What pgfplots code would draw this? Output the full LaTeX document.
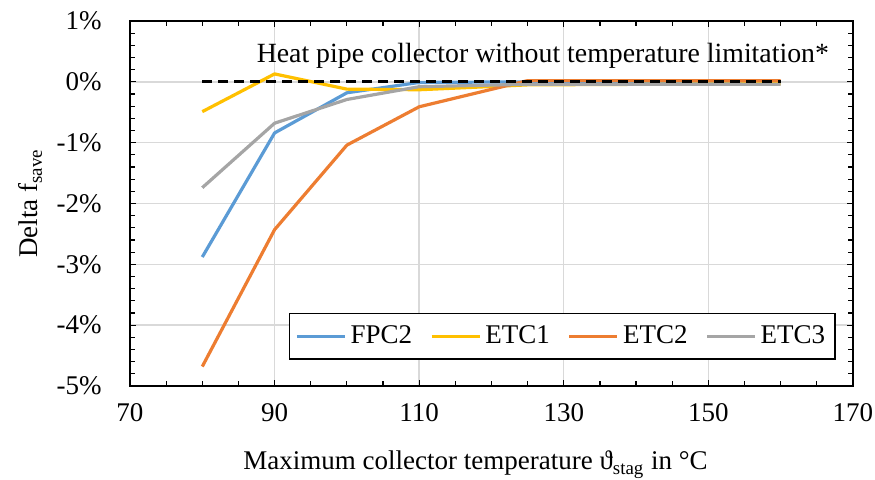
\documentclass[border=0pt]{standalone}
\usepackage{fontspec}
\setmainfont{Liberation Serif}
\usepackage{pgfplots}
\pgfplotsset{compat=1.18}
\definecolor{cfpc}{HTML}{5B9BD5}
\definecolor{cetca}{HTML}{FFC000}
\definecolor{cetcb}{HTML}{ED7D31}
\definecolor{cetcc}{HTML}{A5A5A5}
\definecolor{gridc}{HTML}{D9D9D9}
\begin{document}
\fontsize{13.5}{16}\selectfont
\begin{tikzpicture}
\begin{axis}[
  at={(0,0)}, anchor=south west,
  scale only axis, width=361.5pt, height=182.5pt,
  xmin=70, xmax=170, ymin=-5, ymax=1,
  xtick={70,90,...,170}, minor x tick num=3,
  ytick={-5,...,1}, minor y tick num=4,
  yticklabels={-5\%,-4\%,-3\%,-2\%,-1\%,0\%,1\%},
  tick align=inside, major tick length=3pt, minor tick length=2.5pt,
  tick style={black, line width=0.6pt},
  axis line style={black, line width=0.8pt},
  grid=major, major grid style={gridc, line width=0.7pt},
  /pgf/number format/assume math mode=true,
  xticklabel style={yshift=-4pt},
  yticklabel style={xshift=-9.5pt},
  xlabel={Maximum collector temperature ϑ\textsubscript{stag} in °C},
  ylabel={Delta f\textsubscript{save}},
  xlabel style={at={(axis description cs:0.478,-0.23)}, anchor=base},
  ylabel style={at={(axis description cs:-0.138,0.5)}, anchor=center},
  legend columns=4,
  legend style={at={(axis description cs:0.9765,0.071)}, anchor=south east,
    draw=black, line width=0.8pt, fill=white, inner xsep=3pt, inner ysep=4pt,
    /tikz/every even column/.append style={column sep=7pt}},
  legend image code/.code={\draw[#1] (0pt,0pt) -- (24pt,0pt);},
  every axis plot/.append style={line width=1.6pt, line join=round},
]
\addplot[cfpc] coordinates {(80,-2.88) (90,-0.84) (100,-0.18) (110,-0.01) (125,0.0) (160,0.0)};
\addplot[cetca] coordinates {(80,-0.49) (90,0.13) (100,-0.12) (110,-0.13) (125,-0.05) (160,-0.03)};
\addplot[cetcb] coordinates {(80,-4.68) (90,-2.43) (100,-1.04) (110,-0.41) (125,0.02) (160,0.02)};
\addplot[cetcc] coordinates {(80,-1.74) (90,-0.68) (100,-0.29) (110,-0.08) (125,-0.04) (160,-0.04)};
\addplot[black, line width=1.4pt, dash pattern=on 5pt off 3pt, forget plot] coordinates {(80,0) (160,0)};
\legend{FPC2,ETC1,ETC2,ETC3}
\node[anchor=base, font=\fontsize{13.9}{16}\selectfont] at (axis cs:127.1,0.31) {Heat pipe collector without temperature limitation*};
\end{axis}
\pgfresetboundingbox
\path (-65pt,-47pt) rectangle (372.5pt,193pt);
\end{tikzpicture}
\end{document}
